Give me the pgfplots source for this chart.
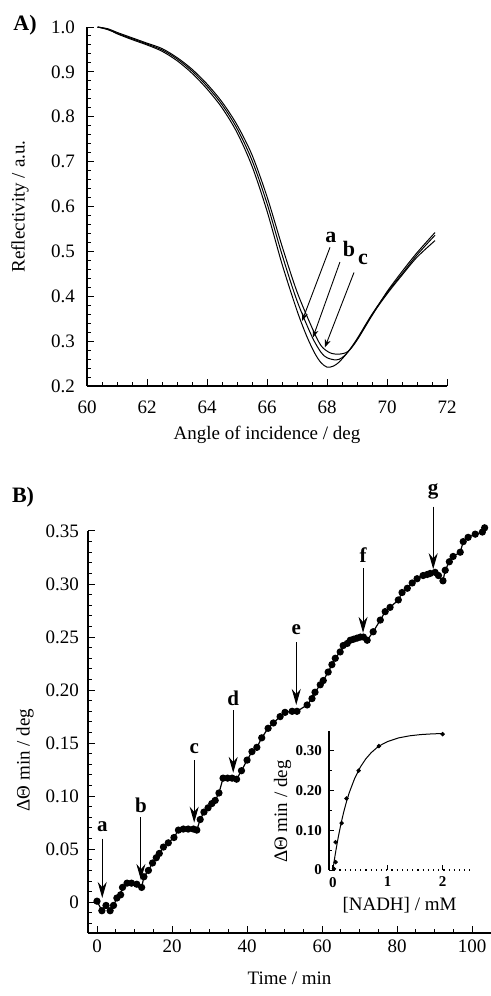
\documentclass[border=0pt]{standalone}
\usepackage{fontspec}
\setmainfont{Liberation Serif}
\usepackage{pgfplots}
\pgfplotsset{compat=1.18}
\usetikzlibrary{arrows.meta}

\pgfplotsset{
  myax/.style={
    scale only axis,
    axis x line*=bottom, axis y line*=left,
    tick align=inside,
    major tick length=3.5pt, minor tick length=2pt,
    tick style={black, line width=0.5pt},
    axis line style={black, line width=0.6pt},
    /pgf/number format/assume math mode=true,
    tick label style={font=\fontsize{9.5}{10}\selectfont},
    label style={font=\fontsize{9.5}{11}\selectfont},
    clip=false,
  },
}

\begin{document}
\begin{tikzpicture}
\useasboundingbox (0pt,0pt) rectangle (245.5pt,498pt);

% ---------------- Panel A ----------------
\begin{axis}[myax,
  at={(43.5pt,305pt)}, anchor=south west,
  width=180pt, height=179.5pt,
  xmin=60, xmax=72, ymin=0.2, ymax=1.0,
  xtick={60,62,64,66,68,70,72}, minor x tick num=3,
  ytick={0.2,0.3,0.4,0.5,0.6,0.7,0.8,0.9,1.0},
  yticklabels={0.2,0.3,0.4,0.5,0.6,0.7,0.8,0.9,1.0},
  minor y tick num=4,
  xticklabel style={yshift=-4pt},
  yticklabel style={xshift=-2.5pt},
  xlabel={Angle of incidence / deg},
  ylabel={Reflectivity / a.u.},
  xlabel style={at={(axis description cs:0.5,0)}, anchor=center, yshift=-24.5pt},
  ylabel style={at={(axis description cs:-0.186,0.5)}, anchor=center},
]
\addplot[black, line width=0.5pt, smooth] coordinates {
(60.35,1.000) (60.7,0.995) (61.0,0.985) (61.5,0.972) (62.0,0.960) (62.5,0.946)
(63.0,0.925) (63.5,0.897) (64.0,0.862) (64.5,0.820) (65.0,0.765) (65.5,0.690)
(66.0,0.590) (66.5,0.472) (67.0,0.368) (67.33,0.310) (67.6,0.272) (67.8,0.252)
(68.0,0.242) (68.2,0.244) (68.4,0.253) (68.7,0.276) (69.0,0.303) (69.5,0.358)
(70.0,0.405) (70.5,0.447) (71.0,0.487) (71.6,0.524)
};
\addplot[black, line width=0.5pt, smooth] coordinates {
(60.35,1.000) (60.7,0.994) (61.0,0.986) (61.5,0.974) (62.0,0.962) (62.5,0.949)
(63.0,0.929) (63.5,0.902) (64.0,0.868) (64.5,0.827) (65.0,0.774) (65.5,0.703)
(66.0,0.607) (66.5,0.493) (67.0,0.390) (67.5,0.310) (67.8,0.275) (68.0,0.263)
(68.3,0.258) (68.5,0.263) (68.7,0.276) (69.0,0.305) (69.5,0.360) (70.0,0.408)
(70.5,0.450) (71.0,0.492) (71.6,0.536)
};
\addplot[black, line width=0.5pt, smooth] coordinates {
(60.35,1.000) (60.7,0.996) (61.0,0.988) (61.5,0.976) (62.0,0.964) (62.5,0.952)
(63.0,0.932) (63.5,0.906) (64.0,0.873) (64.5,0.833) (65.0,0.782) (65.5,0.715)
(66.0,0.622) (66.5,0.512) (67.0,0.410) (67.5,0.330) (67.8,0.290) (68.1,0.274)
(68.4,0.271) (68.7,0.277) (69.0,0.302) (69.5,0.357) (70.0,0.410) (70.5,0.455)
(71.0,0.497) (71.6,0.542)
};
\draw[-{Stealth[length=4pt,width=3pt]}, line width=0.45pt] (axis cs:68.1,0.509) -- (axis cs:67.17,0.345);
\draw[-{Stealth[length=4pt,width=3pt]}, line width=0.45pt] (axis cs:68.43,0.476) -- (axis cs:67.53,0.308);
\draw[-{Stealth[length=4pt,width=3pt]}, line width=0.45pt] (axis cs:68.9,0.453) -- (axis cs:67.93,0.286);
\node[font=\bfseries\fontsize{11}{12}\selectfont] at (axis cs:68.13,0.531) {a};
\node[font=\bfseries\fontsize{11}{12}\selectfont] at (axis cs:68.73,0.505) {b};
\node[font=\bfseries\fontsize{11}{12}\selectfont] at (axis cs:69.2,0.482) {c};
\end{axis}

% ---------------- Panel B ----------------
\begin{axis}[myax,
  at={(44pt,31.5pt)}, anchor=south west,
  width=201.5pt, height=201pt,
  xmin=-2.4, xmax=105, ymin=-0.029, ymax=0.35,
  xtick={0,20,40,60,80,100}, minor x tick num=3,
  ytick={0,0.05,0.10,0.15,0.20,0.25,0.30,0.35},
  yticklabels={0,0.05,0.10,0.15,0.20,0.25,0.30,0.35},
  minor ytick={-0.02,-0.01,0.01,0.02,0.03,0.04,0.06,0.07,0.08,0.09,0.11,0.12,0.13,0.14,0.16,0.17,0.18,0.19,0.21,0.22,0.23,0.24,0.26,0.27,0.28,0.29,0.31,0.32,0.33,0.34},
  yticklabel style={xshift=-1pt},
  xlabel={Time / min},
  ylabel={ΔΘ min / deg},
  xlabel style={at={(axis description cs:0.5,0)}, anchor=center, yshift=-22.5pt},
  ylabel style={at={(axis description cs:-0.156,0.43)}, anchor=center},
]
\addplot[black, line width=0.6pt, mark=*, mark size=1.5pt] coordinates {
(0,0.001) (1.3,-0.008) (2.4,-0.003) (3.5,-0.008) (4.4,-0.003) (5.3,0.004)
(6.3,0.007) (6.8,0.014) (8.0,0.018) (9.2,0.018) (10.6,0.017) (11.9,0.014)
(12.5,0.024) (13.7,0.030) (14.8,0.037) (15.8,0.042) (16.6,0.046) (17.7,0.052)
(19.0,0.056) (20.5,0.061) (21.7,0.068) (23.0,0.069) (24.3,0.069) (25.7,0.069)
(26.6,0.068) (27.5,0.078) (28.5,0.085) (29.6,0.089) (30.6,0.093) (31.5,0.096)
(32.5,0.103) (33.6,0.117) (34.8,0.117) (36.0,0.117) (37.2,0.116) (38.5,0.124)
(40.0,0.134) (41.3,0.142) (42.6,0.146) (43.9,0.155) (45.6,0.164) (47.0,0.169)
(48.8,0.175) (50.1,0.179) (52.0,0.180) (53.3,0.180) (56.0,0.186) (57.3,0.192)
(58.1,0.198) (59.5,0.205) (60.3,0.209) (61.6,0.217) (62.6,0.224) (63.5,0.230)
(64.8,0.236) (65.6,0.242) (66.7,0.244) (67.5,0.247) (68.4,0.248) (69.3,0.249)
(70.2,0.250) (71.0,0.250) (72.0,0.247) (73.6,0.255) (75.5,0.266) (76.8,0.274)
(78.1,0.278) (80.3,0.285) (81.3,0.292) (82.7,0.296) (84.0,0.301) (85.3,0.305)
(86.9,0.308) (88.0,0.309) (88.8,0.310) (90.1,0.311) (91.0,0.308) (92.2,0.303)
(92.8,0.313) (93.9,0.321) (94.9,0.326) (96.8,0.330) (97.6,0.340) (98.9,0.344)
(100.8,0.347) (102.7,0.349) (103.3,0.353)
};
\tikzset{barr/.style={-{Stealth[length=8pt,width=4.5pt]}, line width=0.5pt},
         blab/.style={font=\bfseries\fontsize{10.5}{12}\selectfont}}
\draw[barr] (axis cs:1.4,0.060) -- (axis cs:1.4,0.004);
\node[blab] at (axis cs:1.4,0.071) {a};
\draw[barr] (axis cs:11.7,0.080) -- (axis cs:11.7,0.021);
\node[blab] at (axis cs:11.7,0.091) {b};
\draw[barr] (axis cs:25.9,0.134) -- (axis cs:25.9,0.075);
\node[blab] at (axis cs:25.9,0.145) {c};
\draw[barr] (axis cs:36.3,0.181) -- (axis cs:36.3,0.122);
\node[blab] at (axis cs:36.3,0.192) {d};
\draw[barr] (axis cs:53.1,0.245) -- (axis cs:53.1,0.186);
\node[blab] at (axis cs:53.1,0.257) {e};
\draw[barr] (axis cs:70.9,0.315) -- (axis cs:70.9,0.254);
\node[blab] at (axis cs:70.9,0.327) {f};
\draw[barr] (axis cs:89.6,0.373) -- (axis cs:89.6,0.314);
\node[blab] at (axis cs:89.6,0.387) {g};
\end{axis}

% ---------------- Inset ----------------
\begin{axis}[myax,
  at={(164.5pt,63pt)}, anchor=south west,
  width=70.5pt, height=69.5pt,
  xmin=-0.07, xmax=2.5, ymin=0, ymax=0.35,
  x axis line style={dotted, line width=0.7pt},
  xtick={0,1,2}, xticklabels={\textbf{0},\textbf{1},\textbf{2}},
  ytick={0,0.1,0.2,0.3}, yticklabels={\textbf{0},\textbf{0.10},\textbf{0.20},\textbf{0.30}},
  minor y tick num=1,
  major tick length=2.5pt, minor tick length=1.5pt,
  tick label style={font=\fontsize{7.5}{8}\selectfont},
  xlabel={[NADH] / mM},
  ylabel={ΔΘ min / deg},
  xlabel style={at={(axis description cs:0.5,0)}, anchor=center, yshift=-17.5pt},
  ylabel style={at={(axis description cs:-0.33,0.42)}, anchor=center},
]
\addplot[black, line width=0.5pt] coordinates {
(0,0) (0.02,0.0187) (0.05,0.0447) (0.1,0.0837) (0.15,0.1176) (0.2,0.1470)
(0.25,0.1727) (0.3,0.1951) (0.4,0.2314) (0.5,0.2590) (0.6,0.2798) (0.7,0.2956)
(0.8,0.3076) (0.9,0.3167) (1.0,0.3235) (1.2,0.3327) (1.4,0.3379) (1.6,0.3410)
(1.8,0.3427) (2.0,0.3437)
};
\addplot[black, only marks, mark=*, mark size=0.9pt] coordinates {
(0.02,0.003) (0.05,0.02) (0.05,0.07) (0.16,0.118) (0.25,0.18) (0.47,0.25) (0.84,0.312) (2.0,0.342)
};
\end{axis}

\node[font=\bfseries\fontsize{11}{12}\selectfont] at (12.5pt,485.5pt) {A)};
\node[font=\bfseries\fontsize{11}{12}\selectfont] at (11.5pt,249.5pt) {B)};
\end{tikzpicture}
\end{document}
